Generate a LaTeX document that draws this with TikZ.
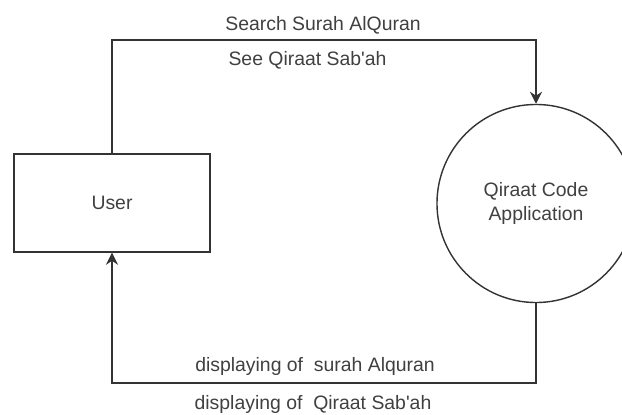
\documentclass[tikz,border=0pt]{standalone}
\usepackage{fontspec}
\setmainfont{Liberation Sans}
\usetikzlibrary{positioning,arrows.meta}

\begin{document}
\begin{tikzpicture}[x=0.025cm,y=-0.025cm,
  lbl/.style={text=black!75, font=\fontsize{13.8}{16.4}\selectfont},
  ent/.style={draw=black!80, line width=1pt, lbl},
  flow/.style={draw=black!80, line width=1pt, -{Stealth[length=0.3cm,width=0.3cm]}}]
  \clip (0,0) rectangle (622,414);
  % entities
  \node[ent, minimum width=4.9cm, minimum height=2.45cm] (user) at (112,203) {User};
  \node[ent, circle, minimum size=4.95cm, align=center] (app) at (536,203.5) {Qiraat Code\\Application};
  % request flow
  \coordinate (top) at (323,40);
  \draw[flow] (user.north) |- (top) -| (app.north);
  \node[lbl] (search) at (323,25) {Search Surah AlQuran};
  \node[lbl] (see) at (307.5,60) {See Qiraat Sab\textquotesingle ah};
  % response flow
  \coordinate (bot) at (315,383);
  \draw[flow] (app.south) |- (bot) -| (user.south);
  \node[lbl] (showsurah) at (315,366) {displaying of\ \ surah Alquran};
  \node[lbl] (showqiraat) at (313,404) {displaying of\ \ Qiraat Sab\textquotesingle ah};
\end{tikzpicture}
\end{document}
